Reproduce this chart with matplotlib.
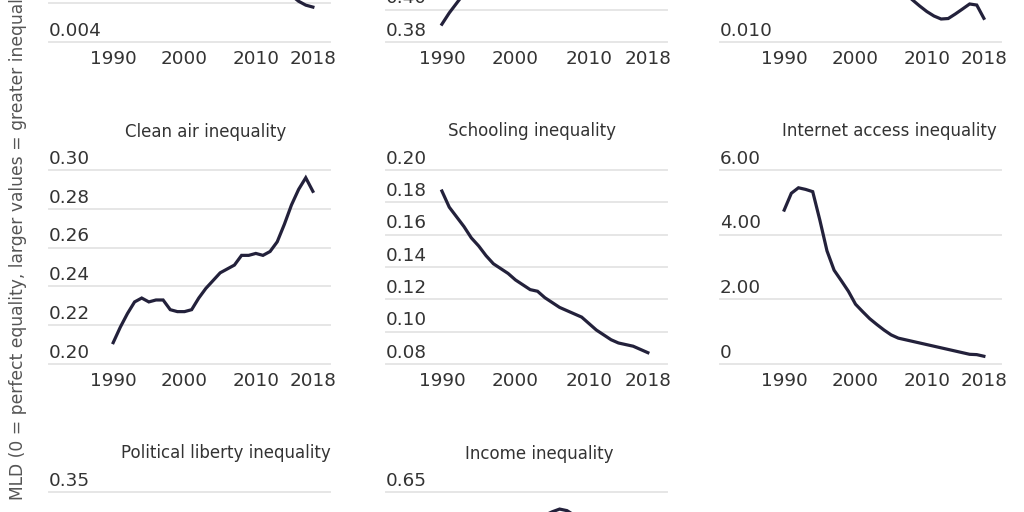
import matplotlib
matplotlib.use("Agg")
import matplotlib.pyplot as plt

# ---- data ----
years = list(range(1990, 2019))

# top row (only the bottom edge is visible in the crop)
top_left_vals = [0.0125, 0.0122, 0.0120, 0.0117, 0.0114, 0.0112, 0.0110, 0.0108, 0.0105, 0.0102,
                 0.0100, 0.0097, 0.0094, 0.0091, 0.0088, 0.0085, 0.0082, 0.0079, 0.0076, 0.0074,
                 0.0072, 0.0070, 0.0068, 0.0066, 0.0065, 0.0064, 0.0061, 0.0059, 0.0058]
top_mid_vals = [0.391, 0.398, 0.404, 0.410, 0.415, 0.419, 0.423, 0.427, 0.430, 0.433,
                0.436, 0.440, 0.443, 0.446, 0.449, 0.452, 0.455, 0.457, 0.459, 0.461,
                0.463, 0.465, 0.466, 0.467, 0.468, 0.469, 0.470, 0.470, 0.471]
top_right_vals = [0.0230, 0.0228, 0.0225, 0.0222, 0.0218, 0.0214, 0.0210, 0.0205, 0.0200, 0.0195,
                  0.0190, 0.0185, 0.0179, 0.0173, 0.0167, 0.0161, 0.0156, 0.0150, 0.01433, 0.01371,
                  0.01314, 0.01268, 0.01237, 0.01242, 0.01289, 0.01340, 0.01392, 0.01381, 0.01244]

clean_air = [0.211, 0.219, 0.226, 0.232, 0.234, 0.232, 0.233, 0.233, 0.228, 0.227,
             0.227, 0.228, 0.234, 0.239, 0.243, 0.247, 0.249, 0.251, 0.256, 0.256,
             0.257, 0.256, 0.258, 0.263, 0.272, 0.282, 0.290, 0.296, 0.289]
schooling = [0.187, 0.177, 0.171, 0.165, 0.158, 0.153, 0.147, 0.142, 0.139, 0.136,
             0.132, 0.129, 0.126, 0.125, 0.121, 0.118, 0.115, 0.113, 0.111, 0.109,
             0.105, 0.101, 0.098, 0.095, 0.093, 0.092, 0.091, 0.089, 0.087]
internet = [4.76, 5.28, 5.45, 5.40, 5.33, 4.45, 3.50, 2.90, 2.58, 2.25,
            1.85, 1.62, 1.40, 1.22, 1.05, 0.90, 0.80, 0.75, 0.70, 0.65,
            0.60, 0.55, 0.50, 0.45, 0.40, 0.35, 0.30, 0.29, 0.24]

political = [0.24, 0.25, 0.26, 0.26, 0.25, 0.25, 0.24, 0.24, 0.24, 0.23,
             0.23, 0.23, 0.22, 0.22, 0.22, 0.22, 0.22, 0.23, 0.23, 0.23,
             0.23, 0.24, 0.24, 0.24, 0.25, 0.25, 0.26, 0.26, 0.26]
income = [0.550, 0.560, 0.565, 0.570, 0.575, 0.580, 0.585, 0.590, 0.595, 0.600,
          0.605, 0.608, 0.612, 0.615, 0.620, 0.6245, 0.628, 0.626, 0.620, 0.612,
          0.605, 0.598, 0.592, 0.587, 0.583, 0.580, 0.578, 0.576, 0.575]

titles = ["", "", "",
          "Clean air inequality", "Schooling inequality", "Internet access inequality",
          "Political liberty inequality", "Income inequality"]
series = [top_left_vals, top_mid_vals, top_right_vals,
          clean_air, schooling, internet, political, income]
yticks = [[0.004, 0.006, 0.008, 0.010, 0.012, 0.014],
          [0.38, 0.40, 0.42, 0.44, 0.46, 0.48, 0.50],
          [0.010, 0.015, 0.020, 0.025, 0.030],
          [0.20, 0.22, 0.24, 0.26, 0.28, 0.30],
          [0.08, 0.10, 0.12, 0.14, 0.16, 0.18, 0.20],
          [0, 2, 4, 6],
          [0.10, 0.15, 0.20, 0.25, 0.30, 0.35],
          [0.40, 0.45, 0.50, 0.55, 0.60, 0.65]]
ytick_fmt = ["{:.3f}", "{:.2f}", "{:.3f}", "{:.2f}", "{:.2f}", "{:.2f}", "{:.2f}", "{:.2f}"]
xtick_vals = [1990, 2000, 2010, 2018]

# ---- layout (pixels of the 1024x512 crop) ----
W, H = 1024, 512
col_left = [49, 386, 720]
ax_w, ax_h = 281, 194
row_bottom = [42, 364, 686]   # pixel y of each row's bottom gridline
xlims = [(1981.0, 2020.4), (1982.4, 2020.6), (1981.0, 2020.4)]
title_pos = {3: (206, 136.7), 4: (531.5, 135.5), 5: (889.7, 136),
             6: (225.5, 458.5), 7: (539, 459)}

line_color = "#23213b"
grid_color = "#e6e6e6"
text_color = "#333333"

fig = plt.figure(figsize=(10.24, 5.12), dpi=100)
fig.patch.set_facecolor("white")

for i, vals in enumerate(series):
    r, c = divmod(i, 3)
    left = col_left[c] / W
    bottom = (H - row_bottom[r]) / H
    ax = fig.add_axes([left, bottom, ax_w / W, ax_h / H])
    ax.plot(years, vals, color=line_color, lw=2.3, solid_joinstyle="miter")
    t = yticks[i]
    ax.set_ylim(t[0], t[-1])
    ax.set_xlim(*xlims[c])
    ax.set_yticks(t)
    ax.set_xticks(xtick_vals)
    ax.set_xticklabels([str(y) for y in xtick_vals])
    ax.yaxis.grid(True, color=grid_color, lw=1.4)
    for gl in ax.get_ygridlines():
        gl.set_clip_on(False)
    ax.set_axisbelow(True)
    ax.tick_params(axis="y", length=0, labelleft=False)
    ax.tick_params(axis="x", length=0, pad=5.5, labelsize=13.2, colors=text_color)
    for s in ax.spines.values():
        s.set_visible(False)
    for v in t:
        lab = "0" if v == 0 else ytick_fmt[i].format(v)
        ax.annotate(lab, xy=(0, v), xycoords=ax.get_yaxis_transform(),
                    xytext=(0, 4.5), textcoords="offset points",
                    ha="left", va="baseline", fontsize=13.2, color=text_color)
    if titles[i]:
        tx, ty = title_pos[i]
        fig.text(tx / W, (H - ty) / H, titles[i], ha="center", va="baseline",
                 fontsize=12, color=text_color)

fig.text(0.0175, 0.0234, "MLD (0 = perfect equality, larger values = greater inequality)",
         rotation=90, ha="center", va="bottom", fontsize=12.3,
         family="DejaVu Sans", color="#555555")

fig.savefig("out.png", dpi=100)
